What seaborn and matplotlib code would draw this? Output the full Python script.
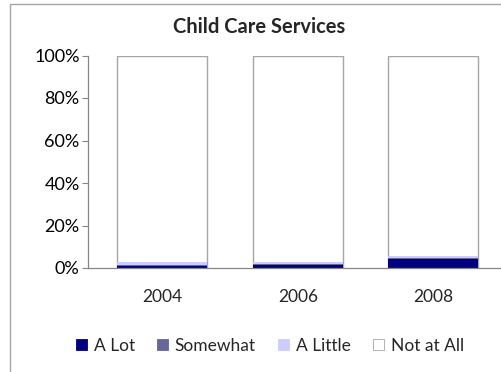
import matplotlib
matplotlib.use("Agg")
import matplotlib.pyplot as plt
import seaborn as sns
import pandas as pd
import numpy as np
from matplotlib.patches import Rectangle, Patch

years = ["2004", "2006", "2008"]
a_lot = [1.0, 1.5, 4.2]
somewhat = [0.5, 0.5, 0.5]
a_little = [1.5, 1.0, 1.0]
series_names = ["A Lot", "Somewhat", "A Little", "Not at All"]
colors = ["#000080", "#666699", "#CCCCFF", "#FFFFFF"]
y_ticks = [0, 20, 40, 60, 80, 100]
y_tick_labels = ["0%", "20%", "40%", "60%", "80%", "100%"]

not_at_all = [100 - a - b - c for a, b, c in zip(a_lot, somewhat, a_little)]

sns.set_style("white")
plt.rcParams["font.family"] = ["Lato", "DejaVu Sans"]

W, H = 502, 372
fig = plt.figure(figsize=(W / 100, H / 100), dpi=100)
ax = fig.add_axes([88 / W, 1 - 268 / H, (501 - 88) / W, (268 - 55.5) / H])

stack = np.vstack([a_lot, somewhat, a_little, not_at_all])
cum = np.cumsum(stack, axis=0)

# draw from top of stack down (overlay)
for i in range(3, -1, -1):
    df = pd.DataFrame({"year": years, "val": cum[i]})
    edge = "#A6A6A6" if i == 3 else "none"
    sns.barplot(data=df, x="year", y="val", color=colors[i], ax=ax,
                width=0.665, edgecolor=edge, linewidth=1.0 if i == 3 else 0,
                saturation=1, errorbar=None)

ax.set_xlim(-0.55, 2.5)
ax.set_ylim(0, 100)
ax.set_yticks(y_ticks)
ax.set_yticklabels(y_tick_labels, fontsize=13, color="#000000")
ax.tick_params(axis="y", direction="out", length=4, width=0.8, color="#868686", pad=2, left=True)
ax.tick_params(axis="x", length=0, labelsize=12.5, pad=15)
ax.set_xlabel("")
ax.set_ylabel("")
for s in ["top", "right"]:
    ax.spines[s].set_visible(False)
for s in ["left", "bottom"]:
    ax.spines[s].set_color("#868686")
    ax.spines[s].set_linewidth(0.9)
ax.grid(False)

fig.text(259 / W, 1 - 27 / H, "Child Care Services", ha="center", va="center",
         fontsize=14.5, fontweight="bold")

handles = [Patch(facecolor=c, edgecolor=("#A6A6A6" if c == "#FFFFFF" else c), linewidth=0.6)
           for c in colors]
fig.legend(handles, series_names, loc="center", bbox_to_anchor=(270 / W, 1 - 346 / H),
           ncol=4, frameon=False, fontsize=12.5, handlelength=0.6, handleheight=0.6,
           handletextpad=0.4, columnspacing=1.3)

fig.patches.append(Rectangle((10.5 / W, -0.1), 1.2, 1 - 3.5 / H + 0.1,
                             transform=fig.transFigure, fill=False,
                             edgecolor="#A6A6A6", linewidth=1))

fig.savefig("out.png", dpi=100)
